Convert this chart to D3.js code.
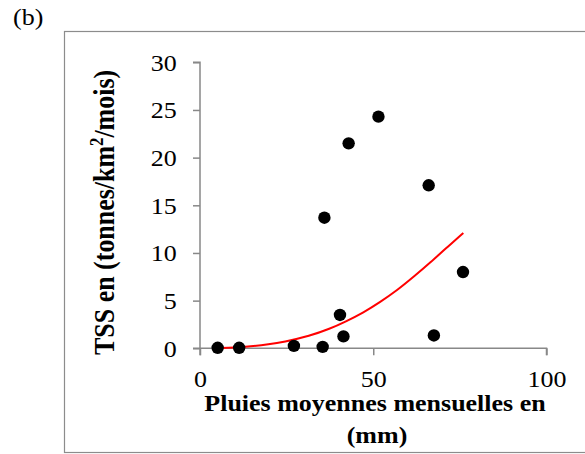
<!DOCTYPE html>
<html>
<head>
<meta charset="utf-8">
<script src="https://cdn.jsdelivr.net/npm/d3@7"></script>
<style>
  html, body { margin: 0; padding: 0; background: #fff; }
  svg { display: block; }
  text { font-family: "Liberation Serif", "Times New Roman", serif; fill: #000; }
</style>
</head>
<body>
<script>
// Monthly mean rainfall (mm) vs suspended sediment yield (t/km²/month)
const rainfall = [5.1, 11.3, 27.1, 35.4, 35.9, 40.4, 41.4, 42.9, 51.5, 66.0, 67.5, 75.9];
const tss      = [0.05, 0.05, 0.25, 0.15, 13.7, 3.5, 1.25, 21.5, 24.3, 17.1, 1.35, 8.0];

// Power-type trend curve, sampled along its path
const trendX = [5.2, 10, 14.4, 20, 24, 31.7, 37.5, 42, 47.2, 52, 56.8, 62, 66.5, 71, 76];
const trendY = [0.01, 0.08, 0.19, 0.42, 0.65, 1.3, 2.05, 2.8, 3.75, 4.85, 6.05, 7.6, 9.0, 10.5, 12.1];

const xTicks = [0, 50, 100];
const yTicks = [0, 5, 10, 15, 20, 25, 30];

const W = 585, H = 454;
const SQ = 0.88;            // text is set slightly condensed in height
const svg = d3.select("body").append("svg").attr("width", W).attr("height", H);

// outer chart frame
svg.append("rect")
  .attr("x", 64.5).attr("y", 31.5)
  .attr("width", 600).attr("height", 421)
  .attr("fill", "none").attr("stroke", "#8c8c8c").attr("stroke-width", 1.2);

svg.append("text")
  .attr("transform", `translate(13,25) scale(1,${SQ})`)
  .style("font-size", "26px")
  .text("(b)");

const x = d3.scaleLinear().domain([0, 100]).range([200, 546.5]);
const y = d3.scaleLinear().domain([0, 30]).range([348.3, 62.3]);

const axisColor = "#888";

const xAxis = svg.append("g")
  .attr("transform", `translate(0,${y(0)})`)
  .call(d3.axisBottom(x).tickValues(xTicks).tickSize(7).tickFormat(d3.format("d")));
const yAxis = svg.append("g")
  .attr("transform", `translate(${x(0)},0)`)
  .call(d3.axisLeft(y).tickValues(yTicks).tickSize(7).tickFormat(d3.format("d")));

[xAxis, yAxis].forEach(g => {
  g.select(".domain").attr("stroke", axisColor).attr("stroke-width", 1.5);
  g.selectAll(".tick line").attr("stroke", axisColor).attr("stroke-width", 1.5);
  g.selectAll(".tick text")
    .style("font-family", "'Liberation Serif', 'Times New Roman', serif")
    .style("font-size", "26px").attr("fill", "#000")
    .attr("dy", null)
    .attr("transform", `scale(1,${SQ})`);
});
xAxis.selectAll(".tick text").attr("y", 38.4 / SQ);
yAxis.selectAll(".tick text").attr("x", -23.3).attr("y", 7.8 / SQ);

// extend the x baseline to meet the outward y tick at zero
xAxis.select(".domain").attr("d", `M${x(0) - 7},0H${x(100)}V7`);
yAxis.select(".domain").attr("d", `M-7,${y(30)}H0V${y(0) + 7}`);

// trend curve
const pts = trendX.map((d, i) => [d, trendY[i]]);
svg.append("path")
  .datum(pts)
  .attr("fill", "none")
  .attr("stroke", "#ff0000")
  .attr("stroke-width", 2)
  .attr("d", d3.line().x(d => x(d[0])).y(d => y(d[1])).curve(d3.curveBasis));

// observations
svg.append("g").selectAll("circle")
  .data(rainfall.map((d, i) => [d, tss[i]]))
  .join("circle")
  .attr("cx", d => x(d[0]))
  .attr("cy", d => y(d[1]))
  .attr("r", 6.2)
  .attr("fill", "#000");

// axis titles
svg.append("text")
  .attr("transform", `translate(375,411) scale(1,${SQ})`)
  .attr("text-anchor", "middle")
  .style("font-size", "26px").style("font-weight", "bold")
  .text("Pluies moyennes mensuelles en");
svg.append("text")
  .attr("transform", `translate(377,443) scale(1,${SQ})`)
  .attr("text-anchor", "middle")
  .style("font-size", "26px").style("font-weight", "bold")
  .text("(mm)");

const yTitle = svg.append("text")
  .attr("transform", `translate(114.3,212.4) scale(1,${SQ}) rotate(-90)`)
  .attr("text-anchor", "middle")
  .style("font-size", "29.5px").style("font-weight", "bold");
yTitle.append("tspan").text("TSS en (tonnes/km");
yTitle.append("tspan").attr("dy", -11).style("font-size", "19px").text("2");
yTitle.append("tspan").attr("dy", 11).text("/mois)");
</script>
</body>
</html>
